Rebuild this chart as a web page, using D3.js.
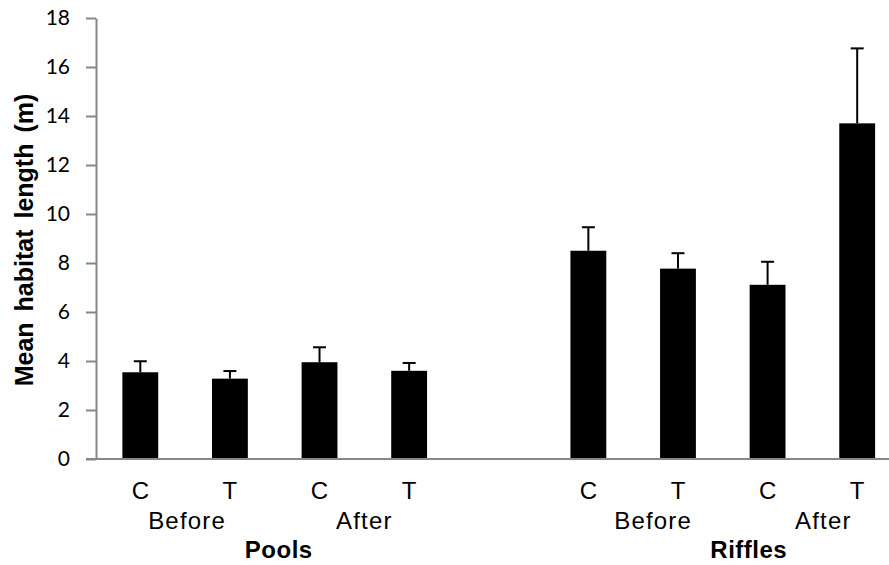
<!DOCTYPE html>
<html><head><meta charset="utf-8">
<script src="https://cdn.jsdelivr.net/npm/d3@7"></script>
<style>body{margin:0;background:#fff}svg{display:block}</style>
</head><body><svg id="c" width="889" height="565"></svg>
<script>
const slots = ["pC_B","pT_B","pC_A","pT_A","gap","rC_B","rT_B","rC_A","rT_A"];
const barSlots = ["pC_B","pT_B","pC_A","pT_A","rC_B","rT_B","rC_A","rT_A"];
const treatLabels = ["C","T","C","T","C","T","C","T"];
const means = [3.54, 3.28, 3.95, 3.60, 8.50, 7.77, 7.11, 13.70];
const errors = [0.45, 0.31, 0.61, 0.32, 0.96, 0.63, 0.94, 3.06];
const periodLabels = ["Before","After","Before","After"];
const habitatLabels = ["Pools","Riffles"];
const yTicks = [0,2,4,6,8,10,12,14,16,18];
const yTitle = "Mean habitat length (m)";

const svg = d3.select("#c");
const x = d3.scaleBand().domain(slots).range([95.5, 902]).paddingInner(0.6).paddingOuter(0.3);
const y = d3.scaleLinear().domain([0,18]).range([459, 18]);
const axisColor = "#878787";

// y axis
const ya = svg.append("g").attr("transform","translate(96,0)")
  .call(d3.axisLeft(y).tickValues(yTicks).tickSize(10).tickPadding(16).tickSizeOuter(0));
ya.select(".domain").attr("stroke",axisColor).attr("stroke-width",2);
ya.selectAll(".tick line").attr("stroke",axisColor).attr("stroke-width",2);
ya.selectAll(".tick text").attr("font-family","Lato, 'Open Sans', sans-serif").attr("font-size",21).attr("fill","#000");

// bars
const cx = s => x(s) + x.bandwidth()/2;
svg.append("g").selectAll("rect").data(barSlots).join("rect")
  .attr("x", s => x(s)).attr("width", x.bandwidth())
  .attr("y", (s,i) => y(means[i])).attr("height", (s,i) => y(0) - y(means[i]))
  .attr("fill","#000");

// error bars
const eg = svg.append("g").attr("stroke","#000").attr("stroke-width",2);
eg.selectAll("line.v").data(barSlots).join("line").attr("class","v")
  .attr("x1",cx).attr("x2",cx).attr("y1",(s,i)=>y(means[i])).attr("y2",(s,i)=>y(means[i]+errors[i]));
eg.selectAll("line.h").data(barSlots).join("line").attr("class","h")
  .attr("x1",s=>cx(s)-6.5).attr("x2",s=>cx(s)+6.5).attr("y1",(s,i)=>y(means[i]+errors[i])).attr("y2",(s,i)=>y(means[i]+errors[i]));

// x axis line
svg.append("line").attr("x1",86).attr("x2",889).attr("y1",y(0)).attr("y2",y(0)).attr("stroke",axisColor).attr("stroke-width",2);

// category labels
const lblFont = "'Liberation Sans', Arial, sans-serif";
svg.append("g").selectAll("text").data(barSlots).join("text")
  .attr("x", cx).attr("y", 499).attr("text-anchor","middle")
  .attr("font-family",lblFont).attr("font-size",24).text((s,i)=>treatLabels[i]);

// period labels (centered between each C/T pair)
const periodOffsets = [2, 0, 20, 11];
svg.append("g").selectAll("text").data(periodLabels).join("text")
  .attr("x",(d,i)=> (cx(barSlots[2*i]) + cx(barSlots[2*i+1]))/2 + periodOffsets[i])
  .attr("y",529).attr("text-anchor","middle").attr("font-family",lblFont).attr("font-size",24)
  .attr("letter-spacing",1.2).text(d=>d);

// habitat labels
const habOffsets = [4, 26];
svg.append("g").selectAll("text").data(habitatLabels).join("text")
  .attr("x",(d,i)=> (cx(barSlots[4*i]) + cx(barSlots[4*i+3]))/2 + habOffsets[i])
  .attr("y",558).attr("text-anchor","middle").attr("font-family",lblFont).attr("font-weight","bold").attr("font-size",24)
  .attr("letter-spacing",0.5).text(d=>d);

// y title
svg.append("text").attr("transform","translate(33,240) rotate(-90)").attr("text-anchor","middle")
  .attr("font-family",lblFont).attr("font-weight","bold").attr("font-size",25).attr("word-spacing",4).text(yTitle);
</script></body></html>
